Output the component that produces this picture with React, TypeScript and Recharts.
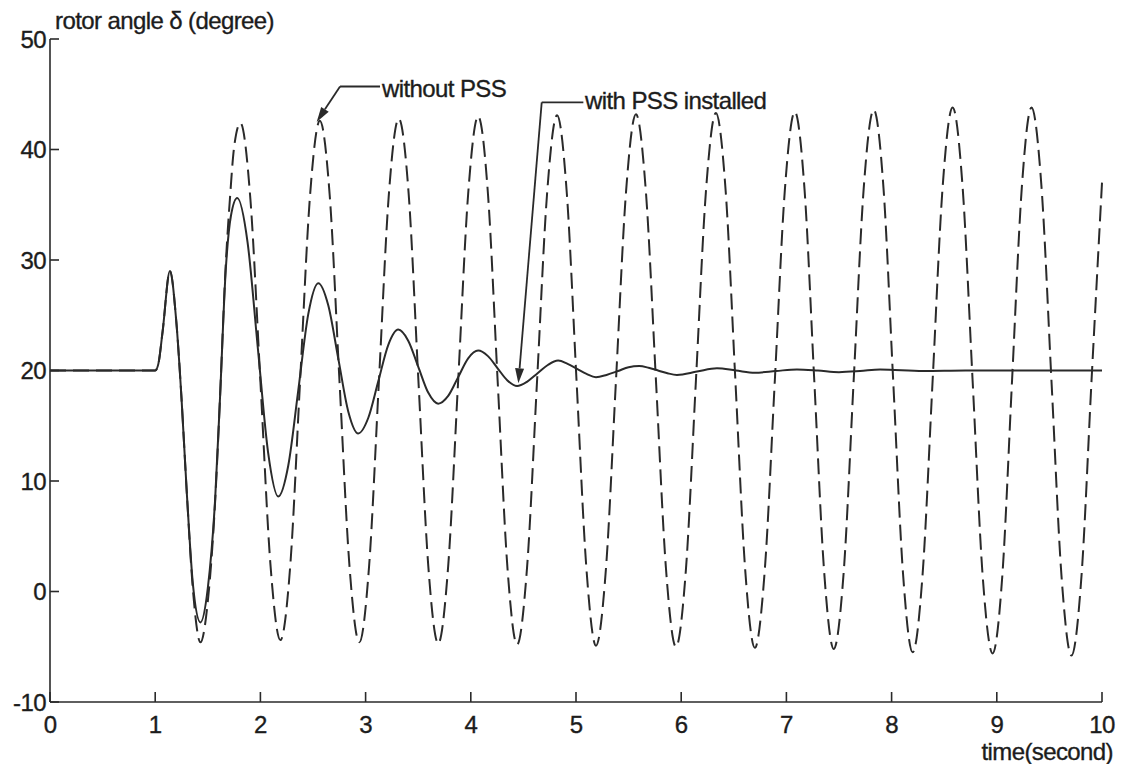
import React from 'react';
import { LineChart, Line, XAxis, YAxis, ReferenceLine, ReferenceDot } from 'recharts';

// rotor angle without PSS (dashed) : [time (s), angle (deg)]
const withoutPss: [number, number][] = [
  [0, 20], [1.0, 20], [1.03, 20.6], [1.07, 23.5], [1.14, 29], [1.2, 24.5], [1.25, 17.5], [1.3, 9], [1.36, 0], [1.43, -4.6],
  [1.5, -0.9], [1.57, 8.2], [1.615, 17.3], [1.67, 29.5], [1.71, 35.5], [1.75, 40.2], [1.81, 42.4],
  [1.905, 35.5], [2.0, 19], [2.095, 2.5], [2.19, -4.4],
  [2.285, 2.5], [2.377, 19], [2.47, 35.6], [2.565, 42.6],
  [2.66, 35.7], [2.752, 19], [2.846, 2.4], [2.94, -4.6],
  [3.034, 2.4], [3.127, 19.1], [3.22, 35.8], [3.315, 42.8],
  [3.41, 35.9], [3.502, 19.1], [3.596, 2.3], [3.69, -4.7],
  [3.785, 2.3], [3.88, 19.1], [3.975, 36], [4.07, 43],
  [4.163, 36], [4.255, 19.1], [4.348, 2.2], [4.44, -4.8],
  [4.535, 2.2], [4.63, 19.1], [4.725, 36], [4.82, 43.1],
  [4.913, 36], [5.005, 19.1], [5.098, 2.2], [5.19, -4.9],
  [5.285, 2.1], [5.38, 19.1], [5.475, 36.1], [5.57, 43.2],
  [5.665, 36.1], [5.76, 19.1], [5.855, 2.1], [5.95, -5.0],
  [6.045, 2.0], [6.14, 19.1], [6.235, 36.2], [6.33, 43.3],
  [6.423, 36.2], [6.515, 19.1], [6.608, 2.0], [6.7, -5.1],
  [6.795, 2.0], [6.89, 19.1], [6.985, 36.3], [7.08, 43.4],
  [7.173, 36.3], [7.265, 19.1], [7.358, 1.9], [7.45, -5.2],
  [7.545, 1.8], [7.64, 19.2], [7.735, 36.5], [7.83, 43.6],
  [7.923, 36.5], [8.015, 19.1], [8.108, 1.7], [8.2, -5.5],
  [8.295, 1.6], [8.39, 19.1], [8.485, 36.6], [8.58, 43.8],
  [8.675, 36.6], [8.77, 19.1], [8.865, 1.5], [8.96, -5.6],
  [9.053, 1.5], [9.145, 19.1], [9.238, 36.6], [9.33, 43.8],
  [9.425, 36.6], [9.52, 19.0], [9.615, 1.4], [9.71, -5.8],
  [9.805, 1.4], [9.9, 19], [10.0, 37],
];

// rotor angle with PSS installed (solid) : [time (s), angle (deg)]
const withPss: [number, number][] = [
  [0, 20], [1.0, 20], [1.03, 20.6], [1.07, 23.5], [1.14, 29], [1.2, 24.5], [1.25, 17.5], [1.3, 9], [1.36, 0.5], [1.43, -2.8],
  [1.5, 0.3], [1.57, 8.4], [1.615, 17.3], [1.67, 29], [1.72, 34], [1.78, 35.6],
  [1.878, 31.6], [1.975, 22.1], [2.073, 12.6], [2.17, 8.6],
  [2.265, 11.4], [2.36, 18.2], [2.455, 25.1], [2.55, 27.9],
  [2.645, 25.9], [2.74, 21.1], [2.835, 16.3], [2.93, 14.3],
  [3.025, 15.7], [3.12, 19], [3.215, 22.3], [3.31, 23.7],
  [3.405, 22.7], [3.5, 20.35], [3.595, 18.0], [3.69, 17.0],
  [3.785, 17.7], [3.88, 19.4], [3.975, 21.1], [4.07, 21.8],
  [4.163, 21.3], [4.255, 20.2], [4.348, 19.1], [4.44, 18.6],
  [4.537, 19.0], [4.635, 19.75], [4.732, 20.5], [4.83, 20.9],
  [4.92, 20.6], [5.01, 20.15], [5.1, 19.7], [5.19, 19.4],
  [5.29, 19.6], [5.4, 19.95], [5.5, 20.3], [5.6, 20.4],
  [5.69, 20.25], [5.78, 20], [5.87, 19.75], [5.96, 19.6],
  [6.15, 19.9], [6.34, 20.2], [6.52, 20.0], [6.7, 19.8],
  [6.9, 19.95], [7.1, 20.1], [7.3, 20.0], [7.5, 19.85], [7.7, 19.95], [7.89, 20.1],
  [8.3, 19.95], [8.7, 20], [10, 20],
];

const xTicks = [0, 1, 2, 3, 4, 5, 6, 7, 8, 9, 10];
const yTicks = [-10, 0, 10, 20, 30, 40, 50];

const annLabels = ['without PSS', 'with PSS installed'];
// annotation anchor points in data coordinates: arrow tip, elbow, end of horizontal leader, text position
const annTips: [number, number][] = [[2.535, 42.5], [4.452, 18.84]];
const annElbows: [number, number][] = [[2.757, 45.7], [4.674, 44.26]];
const annEnds: [number, number][] = [[3.137, 45.7], [5.07, 44.26]];
const annText: [number, number][] = [[3.156, 44.75], [5.086, 43.7]];

const dashedData = withoutPss.map(([t, v]) => ({ t, v }));
const solidData = withPss.map(([t, v]) => ({ t, v }));

const INK = '#2a2a2a';
const FONT = '"Liberation Sans", Arial, Helvetica, sans-serif';
const textStyle = {
  fontFamily: FONT,
  fontSize: 24,
  fill: '#1c1c1c',
  stroke: '#1c1c1c',
  strokeWidth: 0.35,
  letterSpacing: -0.6,
};

const ArrowShape = (props: any) => {
  const { x1, y1, x2, y2 } = props;
  const dx = x2 - x1;
  const dy = y2 - y1;
  const len = Math.sqrt(dx * dx + dy * dy) || 1;
  const ux = dx / len;
  const uy = dy / len;
  const L = 15;
  const W = 4.5;
  const bx = x2 - ux * L;
  const by = y2 - uy * L;
  const pts = `${x2},${y2} ${bx - uy * W},${by + ux * W} ${bx + uy * W},${by - ux * W}`;
  return (
    <g>
      <line x1={x1} y1={y1} x2={bx} y2={by} stroke={INK} strokeWidth={1.8} />
      <polygon points={pts} fill={INK} />
    </g>
  );
};

const PlainSeg = (props: any) => {
  const { x1, y1, x2, y2 } = props;
  return <line x1={x1} y1={y1} x2={x2} y2={y2} stroke={INK} strokeWidth={1.8} />;
};

const makeTextShape = (label: string) => (props: any) => (
  <text x={props.cx} y={props.cy} {...textStyle}>
    {label}
  </text>
);

export default function App() {
  return (
    <div style={{ width: 1109, height: 756, background: '#fff' }}>
      <LineChart width={1109} height={756} margin={{ top: 31, right: 15, bottom: 32, left: 0 }}>
        <XAxis
          dataKey="t"
          type="number"
          domain={[0, 10]}
          ticks={xTicks}
          height={30}
          interval={0}
          stroke={INK}
          strokeWidth={1.6}
          tickSize={-10}
          tickMargin={24}
          tick={textStyle}
          label={{
            content: (p: any) => {
              const vb = p.viewBox;
              return (
                <text x={vb.x + vb.width + 11} y={vb.y + 58} textAnchor="end" {...textStyle}>
                  time(second)
                </text>
              );
            },
          }}
        />
        <YAxis
          type="number"
          domain={[-10, 50]}
          ticks={yTicks}
          width={42}
          interval={0}
          stroke={INK}
          strokeWidth={1.6}
          tickSize={-9}
          tickMargin={13}
          tick={textStyle}
          label={{
            content: (p: any) => {
              const vb = p.viewBox;
              return (
                <text x={vb.x + vb.width + 5} y={vb.y - 10} textAnchor="start" {...textStyle}>
                  rotor angle δ (degree)
                </text>
              );
            },
          }}
        />
        <Line
          data={dashedData}
          dataKey="v"
          type="monotone"
          stroke={INK}
          strokeWidth={2}
          strokeDasharray="16 7"
          dot={false}
          activeDot={false}
          isAnimationActive={false}
        />
        <Line
          data={solidData}
          dataKey="v"
          type="monotone"
          stroke={INK}
          strokeWidth={2}
          dot={false}
          activeDot={false}
          isAnimationActive={false}
        />
        {annLabels.map((lab, i) => (
          <ReferenceLine
            key={`a${i}`}
            segment={[
              { x: annElbows[i][0], y: annElbows[i][1] },
              { x: annTips[i][0], y: annTips[i][1] },
            ]}
            shape={ArrowShape}
            ifOverflow="visible"
          />
        ))}
        {annLabels.map((lab, i) => (
          <ReferenceLine
            key={`h${i}`}
            segment={[
              { x: annElbows[i][0], y: annElbows[i][1] },
              { x: annEnds[i][0], y: annEnds[i][1] },
            ]}
            shape={PlainSeg}
            ifOverflow="visible"
          />
        ))}
        {annLabels.map((lab, i) => (
          <ReferenceDot
            key={`t${i}`}
            x={annText[i][0]}
            y={annText[i][1]}
            r={0}
            shape={makeTextShape(lab)}
            ifOverflow="visible"
          />
        ))}
      </LineChart>
    </div>
  );
}
